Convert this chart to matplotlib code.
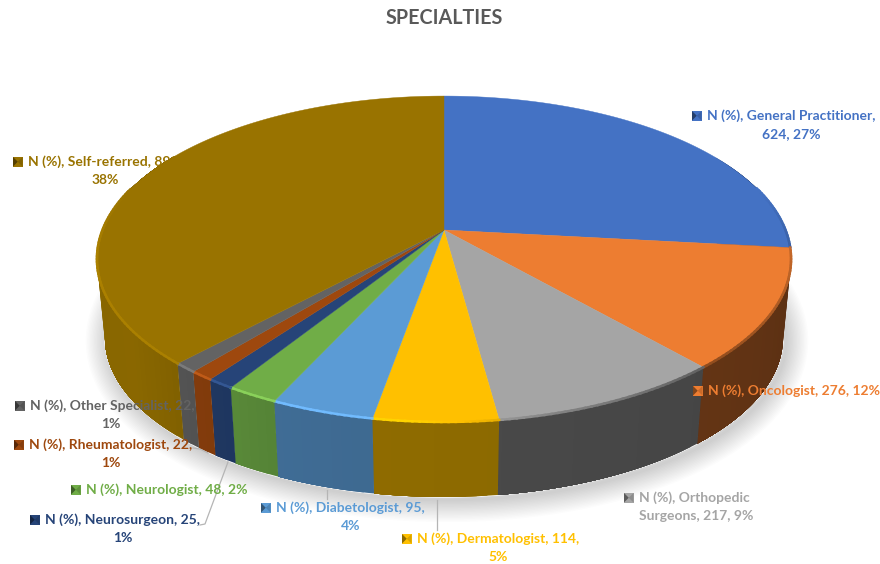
import numpy as np
import matplotlib
matplotlib.use('Agg')
import matplotlib.pyplot as plt
from matplotlib.colors import to_rgb
from matplotlib.patches import Polygon

specialties = ['General Practitioner', 'Oncologist', 'Orthopedic Surgeons', 'Dermatologist',
               'Diabetologist', 'Neurologist', 'Neurosurgeon', 'Rheumatologist',
               'Other Specialist', 'Self-referred']
counts = [624, 276, 217, 114, 95, 48, 25, 22, 22, 890]
percents = [27, 12, 9, 5, 4, 2, 1, 1, 1, 38]
colors = ['#4472C4', '#ED7D31', '#A5A5A5', '#FFC000', '#5B9BD5',
          '#70AD47', '#264478', '#9E480E', '#636363', '#997300']

# label text split in lines, with left x of first line, y of each line and centre x of the second
label_lines = [
    ('N (%), General Practitioner,', '624, 27%'),
    ('N (%), Oncologist, 276, 12%', ''),
    ('N (%), Orthopedic', 'Surgeons, 217, 9%'),
    ('N (%), Dermatologist, 114,', '5%'),
    ('N (%), Diabetologist, 95,', '4%'),
    ('N (%), Neurologist, 48, 2%', ''),
    ('N (%), Neurosurgeon, 25,', '1%'),
    ('N (%), Rheumatologist, 22,', '1%'),
    ('N (%), Other Specialist, 22,', '1%'),
    ('N (%), Self-referred, 890,', '38%'),
]
label_x = [707, 708, 639, 417, 276, 86, 45, 29, 30, 28]
label_y = [116, 391, 498, 539, 508, 490, 520, 445, 406, 162]
second_x = [791, 0, 639, 498, 351, 0, 123, 111, 111, 105]

# pie geometry in pixels, perspective disc seen from above
cx, cy = 444, 230
rx, ry, k = 341.5, 157.8, 0.178
depth, shrink = 79.4, 0.977


def rim(theta, lower=False):
    t = np.radians(theta)
    s = 1 / (1 + k * np.cos(t))
    x = rx * np.sin(t) * s
    y = -ry * np.cos(t) * s
    if lower:
        return cx + shrink * x, cy + shrink * y + depth
    return cx + x, cy + y


def shade(color, f):
    c = np.array(to_rgb(color)) * f
    return tuple(np.clip(c, 0, 1))


fig, ax = plt.subplots(figsize=(8.8, 5.64), dpi=100)
fig.subplots_adjust(0, 0, 1, 1)
ax.set_xlim(0, 880)
ax.set_ylim(564, 0)
ax.axis('off')

# soft shadow under the disc
bx, by = rim(np.linspace(0, 360, 300), lower=True)
for w in range(2, 34, 2):
    ax.plot(bx + 3, by + 3, color='k', alpha=0.012, lw=w, zorder=1)
ax.fill(bx, by, color='white', zorder=1.5)

edges = np.cumsum([0] + counts) / sum(counts) * 360

# side wall: each strip runs on to the end of its slice and the next one paints over it,
# so the light can change around the rim without seams
side_th = [60, 96, 139, 172.3, 172.5, 189.9, 190.1, 204.5, 204.9, 235, 300]
side_f = [0.38, 0.38, 0.42, 0.44, 0.55, 0.56, 0.68, 0.7, 0.76, 0.9, 0.88]
for i, col in enumerate(colors):
    a, b = max(edges[i], 60), min(edges[i + 1], 300)
    if b <= a:
        continue
    steps = np.arange(a, b, 1.5)
    for t0 in steps:
        ts = np.linspace(t0, b, 60)
        x0, y0 = rim(ts)
        x1, y1 = rim(ts[::-1], lower=True)
        c = shade(col, np.interp(min(t0 + 0.75, b - 0.3), side_th, side_f))
        ax.add_patch(Polygon(np.c_[np.r_[x0, x1], np.r_[y0, y1]], fc=c, ec='none', zorder=2))

# top face
for i, col in enumerate(colors):
    ts = np.linspace(edges[i], edges[i + 1], 120)
    x, y = rim(ts)
    ax.add_patch(Polygon(np.c_[np.r_[cx, x], np.r_[cy, y]], fc=col, ec=col, lw=0.3, zorder=3))

# bevel along the front edge, dark on the right and light on the left
rim_th = [75, 100, 140, 165, 185, 262, 285]
rim_f = [1.0, 0.82, 0.6, 0.8, 1.1, 1.12, 1.0]
for i, col in enumerate(colors):
    steps = np.arange(edges[i], edges[i + 1] + 1, 1.0)
    steps[-1] = edges[i + 1]
    for t0, t1 in zip(steps[:-1], steps[1:]):
        if t1 < 75 or t0 > 285:
            continue
        x, y = rim(np.array([t0, t1]))
        c = shade(col, np.interp((t0 + t1) / 2, rim_th, rim_f))
        if col in ('#5B9BD5', '#264478', '#70AD47', '#9E480E', '#636363'):
            c = tuple(np.clip(np.array(c) * 1.05 + 0.03, 0, 1))
        ax.plot(x, y, color=c, lw=1.8, solid_capstyle='projecting', zorder=4)

# leader lines
leader_x = [[193, 200, 208], [200, 205, 228], [327, 327], [437, 437]]
leader_y = [[448, 449, 453], [525, 524, 462], [490, 499], [500, 530]]
for lx, ly in zip(leader_x, leader_y):
    ax.plot(lx, ly, color='#b5b5b5', lw=0.9, zorder=5)

# labels with their small bevelled keys
font = dict(family='Lato', fontweight='bold', fontsize=10, zorder=6)
for i, (l1, l2) in enumerate(label_lines):
    col = colors[i]
    x, y = label_x[i], label_y[i]
    ax.text(x, y, l1, color=col, ha='left', va='center', **font)
    if l2:
        ha = 'left' if second_x[i] == x else 'center'
        ax.text(second_x[i], y + 18, l2, color=col, ha=ha, va='center', **font)
    mx0, mx1 = x - 15, x - 5.5
    my0, my1 = y - 5, y + 4.5
    ax.add_patch(Polygon([[mx0, my0], [mx1, my0], [mx1, my1], [mx0, my1]], fc=col, ec='none', zorder=6))
    mid = ((mx0 + mx1) / 2, (my0 + my1) / 2)
    ax.add_patch(Polygon([[mx0, my0], mid, [mx0, my1]], fc=shade(col, 0.55), ec='none', zorder=6))
    ax.add_patch(Polygon([[mx1, my0], mid, [mx1, my1]], fc=shade(col, 0.85), ec='none', zorder=6))

ax.text(444, 18, 'SPECIALTIES', color='#595959', ha='center', va='center',
        family='Lato', fontweight='bold', fontsize=14.2, zorder=6)

fig.savefig('out.png', dpi=100)
